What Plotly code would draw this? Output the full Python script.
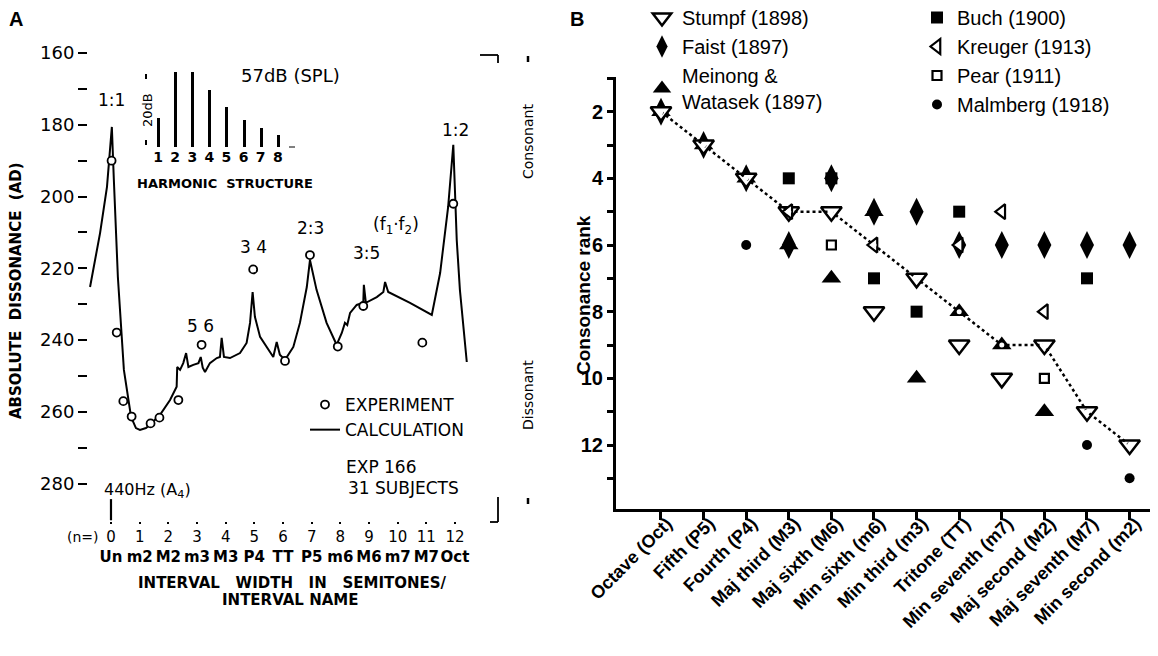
import plotly.graph_objects as go

# reference size, and the page margin the browser adds around the figure
W, H = 1158, 656
OFF = 8
FW, FH = W - OFF, H - OFF

# ---------------- panel A data ----------------
calc_x = [-0.73, -0.38, -0.14, -0.03, 0.03, 0.10, 0.24, 0.45, 0.70, 0.87, 1.01, 1.22,
          1.36, 1.71, 2.06, 2.29, 2.31, 2.41, 2.52, 2.62, 2.70, 2.87, 3.05, 3.13,
          3.20, 3.28, 3.45, 3.69, 3.80, 3.86, 3.94, 4.15, 4.50, 4.73, 4.85, 4.94,
          5.02, 5.20, 5.43, 5.66, 5.78, 5.89, 6.07, 6.36, 6.59, 6.83, 6.94, 7.17,
          7.52, 7.87, 8.05, 8.16, 8.24, 8.34, 8.57, 8.80, 8.82, 8.89, 9.27, 9.50,
          9.56, 9.67, 10.43, 11.19, 11.48, 11.76, 11.94, 12.06, 12.17, 12.41]
calc_ad = [225.2, 210.1, 197.3, 187.0, 180.6, 195.4, 222.4, 248.3, 261.4, 264.5, 265.0, 264.5,
           263.6, 260.8, 256.7, 253.0, 247.5, 248.3, 246.4, 243.6, 247.5, 246.9, 246.4, 244.7,
           247.7, 248.9, 246.4, 245.0, 244.7, 239.4, 244.7, 245.0, 243.6, 240.8, 235.2, 226.6,
           233.5, 239.1, 241.9, 244.7, 240.5, 244.1, 245.5, 241.9, 235.2, 225.2, 217.7, 226.0,
           235.2, 241.3, 238.0, 235.2, 235.8, 232.4, 230.2, 229.6, 224.6, 229.6, 228.0, 226.6,
           223.8, 226.6, 229.6, 233.0, 221.3, 202.9, 185.6, 212.1, 226.0, 246.1]

exp_x = [0.02, 0.20, 0.43, 0.72, 1.38, 1.69, 2.35, 3.16, 4.96, 6.07, 6.94, 7.91, 8.80, 10.86, 11.94]
exp_ad = [190.0, 237.9, 257.0, 261.3, 263.2, 261.6, 256.7, 241.3, 220.3, 245.8, 216.3, 241.8, 230.5, 240.7, 202.0]

semitones = list(range(13))
interval_names = ["Un", "m2", "M2", "m3", "M3", "P4", "TT", "P5", "m6", "M6", "m7", "M7", "Oct"]

harmonic_no = [1, 2, 3, 4, 5, 6, 7, 8]
harmonic_db = [8.7, 22.4, 22.4, 17.0, 11.9, 8.1, 5.7, 3.6]

# ---------------- panel B data ----------------
intervals = ["Octave (Oct)", "Fifth (P5)", "Fourth (P4)", "Maj third (M3)", "Maj sixth (M6)",
             "Min sixth (m6)", "Min third (m3)", "Tritone (TT)", "Min seventh (m7)",
             "Maj second (M2)", "Maj seventh (M7)", "Min second (m2)"]
mean_rank = [2, 3, 4, 5, 5, 6, 7, 8, 9, 9, 11, 12]
stumpf = [2, 3, 4, 5, 5, 8, 7, 9, 10, 9, 11, 12]
faist = [2, 3, 4, 6, 4, 5, 5, 6, 6, 6, 6, 6]
meinong = [2, 3, 4, 6, 7, 5, 10, 8, 9, 11, None, None]
buch = [None, None, None, 4, 4, 7, 8, 5, None, None, 7, None]
kreuger = [None, None, None, 5, None, 6, None, 6, 5, 8, None, None]
pear = [None, None, None, None, 6, None, None, None, None, 10, None, None]
malmberg = [None, None, 6, None, None, None, None, None, None, None, 12, 13]
xi = list(range(len(intervals)))


def dx(x):
    return (x - OFF) / FW


def dy(y):
    return 1 - (y - OFF) / FH


fontA = "DejaVu Sans"
fontB = "Liberation Sans"

fig = go.Figure()

# panel A
fig.add_trace(go.Scatter(x=calc_x, y=calc_ad, mode="lines", name="CALCULATION",
                         line=dict(color="black", width=2), legend="legend3", legendrank=2))
fig.add_trace(go.Scatter(x=exp_x, y=exp_ad, mode="markers", name="EXPERIMENT",
                         marker=dict(symbol="circle", size=8, color="white",
                                     line=dict(color="black", width=1.8)),
                         legend="legend3", legendrank=1))
fig.add_trace(go.Bar(x=harmonic_no, y=harmonic_db, width=0.18, marker_color="black",
                     xaxis="x3", yaxis="y3", showlegend=False))

# panel B
fig.add_trace(go.Scatter(x=xi, y=faist, mode="markers", name="Faist (1897)",
                         marker=dict(symbol="diamond-tall", size=20, color="black"),
                         xaxis="x2", yaxis="y2", legend="legend", legendrank=2, legendgroup="f"))
fig.add_trace(go.Scatter(x=xi, y=meinong, mode="markers", name="Meinong &<br>Watasek (1897)",
                         marker=dict(symbol="triangle-up", size=17, color="black"),
                         xaxis="x2", yaxis="y2", legend="legend", legendrank=3, legendgroup="m"))
fig.add_trace(go.Scatter(x=xi, y=buch, mode="markers", name="Buch (1900)",
                         marker=dict(symbol="square", size=12, color="black"),
                         xaxis="x2", yaxis="y2", legend="legend2", legendrank=1, legendgroup="b"))
fig.add_trace(go.Scatter(x=xi, y=malmberg, mode="markers", name="Malmberg (1918)",
                         marker=dict(symbol="circle", size=10, color="black"),
                         xaxis="x2", yaxis="y2", legend="legend2", legendrank=4, legendgroup="ma"))
fig.add_trace(go.Scatter(x=xi, y=pear, mode="markers", name="Pear (1911)",
                         marker=dict(symbol="square", size=9, color="white",
                                     line=dict(color="black", width=2.2)),
                         xaxis="x2", yaxis="y2", legend="legend2", legendrank=3, legendgroup="p"))
fig.add_trace(go.Scatter(x=xi, y=stumpf, mode="markers", name="Stumpf (1898)",
                         marker=dict(symbol="triangle-down", size=18, color="white",
                                     line=dict(color="black", width=2.5)),
                         xaxis="x2", yaxis="y2", legend="legend", legendrank=1, legendgroup="s"))
fig.add_trace(go.Scatter(x=xi, y=kreuger, mode="markers", name="Kreuger (1913)",
                         marker=dict(symbol="triangle-left", size=13, color="white",
                                     line=dict(color="black", width=2.2)),
                         xaxis="x2", yaxis="y2", legend="legend2", legendrank=2, legendgroup="k"))
fig.add_trace(go.Scatter(x=xi, y=mean_rank, mode="lines+markers", showlegend=False,
                         line=dict(color="black", width=2.5, dash="dot"),
                         marker=dict(symbol="circle", size=5, color="white"),
                         xaxis="x2", yaxis="y2"))

fig.update_layout(
    template="none",
    width=FW, height=FH, margin=dict(l=0, r=0, t=0, b=0, autoexpand=False),
    plot_bgcolor="white", paper_bgcolor="white",
    xaxis=dict(domain=[dx(88), dx(498)], range=[-0.802, 13.499], showgrid=False,
               zeroline=False, showline=False, tickvals=semitones, automargin=False,
               ticktext=[f"{s}<br><b>{n}</b>" for s, n in zip(semitones, interval_names)],
               tickangle=0, ticks="outside", ticklen=2, tickwidth=2, tickcolor="black",
               tickfont=dict(family=fontA, size=15, color="black"), anchor="y"),
    yaxis=dict(domain=[dy(521), dy(53)], range=[290.4, 160], showgrid=False, zeroline=False,
               showline=False, tickvals=list(range(160, 281, 20)), automargin=False,
               ticks="outside", ticklen=9, tickwidth=2, tickcolor="black",
               minor=dict(tickvals=list(range(170, 280, 20)), ticks="outside", ticklen=9,
                          tickwidth=2, tickcolor="black", showgrid=False),
               tickfont=dict(family=fontA, size=18, color="black"), anchor="x"),
    xaxis3=dict(domain=[dx(149.5), dx(286.3)], range=[0.5, 8.5], showgrid=False,
                zeroline=False, showline=False, tickvals=harmonic_no, ticks="",
                automargin=False, tickangle=0,
                tickfont=dict(family=fontA, size=14, color="black", weight="bold"),
                anchor="y3"),
    yaxis3=dict(domain=[dy(147), dy(72)], range=[0, 22.4], visible=False, anchor="x3"),
    xaxis2=dict(domain=[dx(616), 1.0], range=[-1.056, 11.667], showgrid=False,
                zeroline=False, showline=True, linewidth=3, linecolor="black", tickvals=xi,
                ticktext=intervals, tickangle=-45, ticks="outside", ticklen=8,
                tickwidth=2.5, tickcolor="black", automargin=False,
                ticklabelstandoff=-14, ticklabelshift=6,
                tickfont=dict(family=fontB, size=18, color="black", weight="bold"),
                anchor="y2"),
    yaxis2=dict(domain=[dy(509), dy(77)], range=[13.92, 0.96], showgrid=False,
                zeroline=False, showline=True, linewidth=3, linecolor="black",
                automargin=False, tickvals=list(range(2, 13, 2)),
                ticks="outside", ticklen=6, tickwidth=2.5, tickcolor="black",
                minor=dict(tickvals=list(range(1, 14, 2)), ticks="outside", ticklen=6,
                           tickwidth=2.5, tickcolor="black", showgrid=False),
                tickfont=dict(family=fontB, size=20, color="black", weight="bold"),
                anchor="x2"),
    bargap=0,
    legend=dict(x=dx(642), y=1 + 10 / FH, xanchor="left", yanchor="top",
                bgcolor="rgba(0,0,0,0)", font=dict(family=fontB, size=20, color="black"),
                tracegroupgap=0, traceorder="grouped"),
    legend2=dict(x=dx(917), y=1 + 10 / FH, xanchor="left", yanchor="top",
                 bgcolor="rgba(0,0,0,0)", font=dict(family=fontB, size=20, color="black"),
                 tracegroupgap=0, traceorder="grouped"),
    legend3=dict(x=dx(305), y=dy(387), xanchor="left", yanchor="top",
                 bgcolor="rgba(0,0,0,0)", font=dict(family=fontA, size=17, color="black")),
)

ann = []


def text(t, x, y, size=17, family=fontA, angle=0, xanchor="center", weight="normal"):
    ann.append(dict(text=t, x=dx(x), y=dy(y), xref="paper", yref="paper", showarrow=False,
                    xanchor=xanchor, yanchor="middle", textangle=angle,
                    font=dict(family=family, size=size, color="black", weight=weight)))


text("A", 16, 19, size=20, family=fontB, weight="bold")
text("B", 577, 19, size=20, family=fontB, weight="bold")
text("1:1", 111, 100)
text("57dB (SPL)", 290, 75, size=18)
text("HARMONIC  STRUCTURE", 225, 183, size=13, weight="bold")
text("20dB", 147, 110, size=13, angle=-90)
text("3 4", 253, 247)
text("2:3", 310, 228)
text("5 6", 200, 326)
text("3:5", 366, 253)
text("(f<sub>1</sub>·f<sub>2</sub>)", 396, 226)
text("1:2", 455, 130)
text("EXP 166", 344, 467, xanchor="left")
text("31 SUBJECTS", 346, 488, xanchor="left")
text("440Hz (A<sub>4</sub>)", 102, 490, size=16, xanchor="left")
text("(n=)", 83, 537, size=14)
text("INTERVAL   WIDTH   IN   SEMITONES/", 292, 583, size=15, weight="bold")
text("INTERVAL NAME", 290, 600, size=15, weight="bold")
text("ABSOLUTE  DISSONANCE  (AD)", 16, 291, size=15, angle=-90, weight="bold")
text("Consonant", 528, 142, size=14, angle=-90)
text("Dissonant", 528, 395, size=14, angle=-90)
text("Consonance rank", 583, 295, size=19, family=fontB, angle=-90, weight="bold")
fig.update_layout(annotations=ann)

shapes = []


def seg(x0, y0, x1, y1, w=1.8):
    shapes.append(dict(type="line", xref="paper", yref="paper", x0=dx(x0), y0=dy(y0),
                       x1=dx(x1), y1=dy(y1), line=dict(color="black", width=w)))


seg(480, 55, 498, 55)
seg(498, 55, 498, 63)
seg(498, 497, 498, 522)
seg(490, 522, 498, 522)
seg(528, 56, 528, 62, w=2.5)
seg(528, 498, 528, 504, w=2.5)
seg(146, 74, 146, 79, w=2)
seg(146, 140, 146, 145, w=2)
seg(289, 147, 295, 147, w=1)
shapes.append(dict(type="line", xref="x", yref="y", x0=0, x1=0, y0=284.3, y1=290.2,
                   line=dict(color="black", width=2.2)))
fig.update_layout(shapes=shapes)

fig.write_html("out.html")
